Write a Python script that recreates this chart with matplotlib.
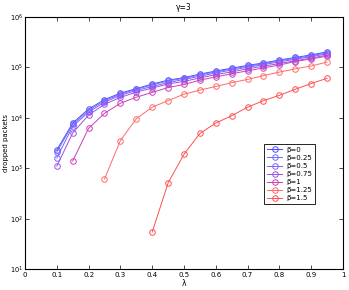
import matplotlib
matplotlib.use("Agg")
import matplotlib.pyplot as plt

lam = [0.1, 0.15, 0.2, 0.25, 0.3, 0.35, 0.4, 0.45, 0.5, 0.55,
       0.6, 0.65, 0.7, 0.75, 0.8, 0.85, 0.9, 0.95]

b0 = [2300, 7900, 15000, 23000, 31000, 38000, 47000, 56000, 63000, 74000,
      85000, 97000, 110000, 123000, 141000, 158000, 178000, 204000]
b025 = [2100, 7400, 14000, 22000, 29500, 37000, 45000, 54000, 61000, 71000,
        82000, 93000, 106000, 119000, 136000, 152000, 171000, 196000]
b05 = [1600, 6800, 13000, 20500, 28000, 35000, 42000, 50000, 58000, 67000,
       78000, 89000, 101000, 114000, 129000, 146000, 164000, 187000]
b075 = [1100, 5000, 11400, 18600, 25500, 32500, 39000, 47000, 53000, 62000,
        72000, 82000, 94000, 106000, 120000, 136000, 154000, 176000]
b1 = [1390, 6200, 12300, 19500, 25700, 32000, 40000, 46000, 56000,
      65000, 75000, 86000, 98000, 112000, 131000, 148000, 168000]
b125 = [610, 3550, 9600, 16300, 22000, 29500, 35600, 42000, 50000,
        58000, 69000, 81000, 94000, 107000, 128000]
b15 = [54, 510, 1900, 4900, 7900, 11000, 16300, 22000, 28000,
       37000, 48000, 61000]

series = [
    ("β=0", lam, b0, "#4a4aff"),
    ("β=0.25", lam, b025, "#6e6eff"),
    ("β=0.5", lam, b05, "#8060ff"),
    ("β=0.75", lam, b075, "#9a50e6"),
    ("β=1", lam[1:], b1, "#cc3fb8"),
    ("β=1.25", lam[3:], b125, "#ff6a6a"),
    ("β=1.5", lam[6:], b15, "#ff5050"),
]

fig = plt.figure(figsize=(3.49, 2.90), dpi=100)
ax = fig.add_axes([0.0716, 0.0724, 0.9112, 0.8686])

for label, x, y, c in series:
    ax.plot(x, y, color=c, marker="o", markersize=4, markerfacecolor="none",
            markeredgewidth=0.7, linewidth=0.7, label=label)

ax.set_yscale("log")
ax.set_xlim(0, 1)
ax.set_ylim(10, 1e6)
ax.set_xticks([i / 10 for i in range(11)])
ax.set_xticklabels(["0", "0.1", "0.2", "0.3", "0.4", "0.5", "0.6", "0.7", "0.8", "0.9", "1"])
ax.minorticks_off()
ax.tick_params(direction="in", top=True, right=True, labelsize=5, length=3, width=0.5, pad=2)
ax.tick_params(axis="y", labelsize=4.8, pad=1.5)
for s in ax.spines.values():
    s.set_linewidth(0.8)

ax.set_title("γ=3", fontsize=5.5, pad=5)
ax.set_xlabel("λ", fontsize=5.5, labelpad=1)
ax.set_ylabel("dropped packets", fontsize=5)
ax.yaxis.set_label_coords(-0.051, 0.5)

leg = ax.legend(loc="upper left", bbox_to_anchor=(0.742, 0.51), fontsize=5,
                fancybox=False, framealpha=1, edgecolor="black",
                handlelength=2.2, labelspacing=0.3, borderpad=0.4, handletextpad=0.5)
leg.get_frame().set_linewidth(0.6)

fig.savefig("out.png", dpi=100)
